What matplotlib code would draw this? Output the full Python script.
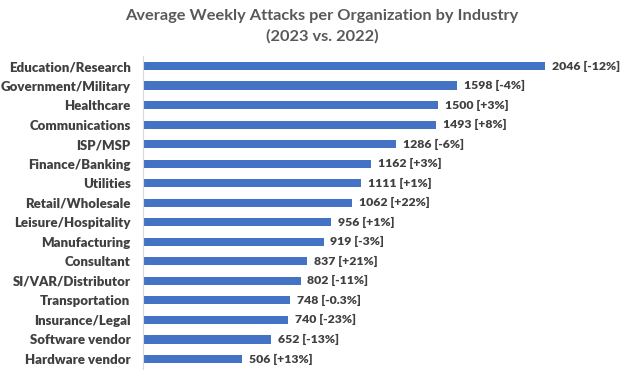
import matplotlib
matplotlib.use("Agg")
import matplotlib.pyplot as plt

industries = ["Education/Research", "Government/Military", "Healthcare", "Communications",
              "ISP/MSP", "Finance/Banking", "Utilities", "Retail/Wholesale",
              "Leisure/Hospitality", "Manufacturing", "Consultant", "SI/VAR/Distributor",
              "Transportation", "Insurance/Legal", "Software vendor", "Hardware vendor"]
attacks = [2046, 1598, 1500, 1493, 1286, 1162, 1111, 1062, 956, 919, 837, 802, 748, 740, 652, 506]
changes = ["-12%", "-4%", "+3%", "+8%", "-6%", "+3%", "+1%", "+22%", "+1%", "-3%", "+21%",
           "-11%", "-0.3%", "-23%", "-13%", "+13%"]

plt.rcParams['font.family'] = ['Lato', 'DejaVu Sans']
fig = plt.figure(figsize=(6.44, 3.76), dpi=100)
ax = fig.add_axes([143/644, 7.25/376, (2400*0.1965)/644, (319.75-7.25)/376])

y = list(range(len(industries)))
ax.barh(y, attacks, height=0.42, color="#4472C4")
ax.set_ylim(len(industries)-0.5, -0.5)
ax.set_xlim(0, 2400)
for yi, v, c in zip(y, attacks, changes):
    ax.text(v + 35, yi, f"{v} [{c}]", va="center", ha="left", fontsize=8.8,
            fontweight="heavy", color="#404040")
ax.set_yticks(y)
ax.set_yticklabels(industries, fontsize=9.5, fontweight="heavy", color="#404040")
ax.tick_params(axis="y", length=0, pad=9)
ax.set_xticks([])
for s in ["top", "right", "bottom"]:
    ax.spines[s].set_visible(False)
ax.spines["left"].set_color("#D9D9D9")
fig.text(0.5, 1-16/376, "Average Weekly Attacks per Organization by Industry", ha="center",
         va="center", fontsize=11.8, fontweight="bold", color="#595959")
fig.text(0.5, 1-36/376, "(2023 vs. 2022)", ha="center", va="center", fontsize=11.8,
         fontweight="bold", color="#595959")
fig.savefig("out.png", dpi=100)
